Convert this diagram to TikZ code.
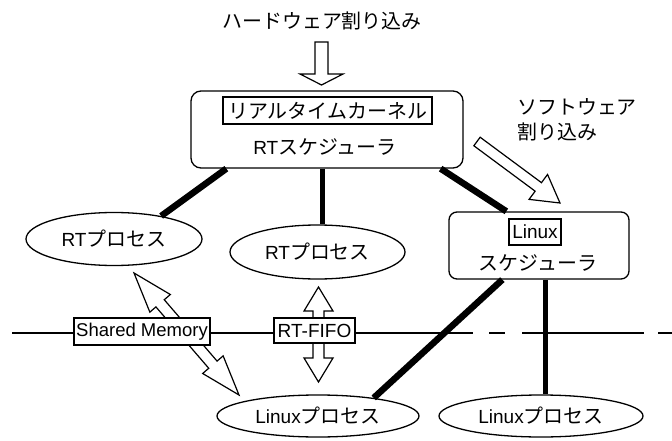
\documentclass[tikz,border=0pt]{standalone}
\usepackage{fontspec}
\setmainfont{Liberation Sans}
\newfontfamily\jp{Noto Sans CJK JP}[Scale=1.05]
\usetikzlibrary{calc,shapes.geometric}
\newcommand\harrow[5]{% tail, tip, half shaft, half head, head length
  \coordinate (hb) at ($(#2)!#5!(#1)$);
  \draw[hollowarrow] ($(#1)!#3!90:(#2)$) -- ($(hb)!#3!90:(#2)$) -- ($(hb)!#4!90:(#2)$) -- (#2)
    -- ($(hb)!#4!-90:(#2)$) -- ($(hb)!#3!-90:(#2)$) -- ($(#1)!#3!-90:(#2)$) -- cycle;}
\newcommand\hdarrow[5]{% tip A, tip B, half shaft, half head, head length
  \coordinate (ha) at ($(#1)!#5!(#2)$);
  \coordinate (hb) at ($(#2)!#5!(#1)$);
  \draw[hollowarrow] (#1) -- ($(ha)!#4!90:(#2)$) -- ($(ha)!#3!90:(#2)$) -- ($(hb)!#3!90:(#2)$)
    -- ($(hb)!#4!90:(#2)$) -- (#2) -- ($(hb)!#4!-90:(#2)$) -- ($(hb)!#3!-90:(#2)$)
    -- ($(ha)!#3!-90:(#2)$) -- ($(ha)!#4!-90:(#2)$) -- cycle;}
\begin{document}
\begin{tikzpicture}[x=1pt,y=-1pt, font=\fontsize{19}{24}\selectfont,
  procnode/.style={ellipse, draw, line width=1.3pt, fill=white, inner sep=0pt},
  roundbox/.style={draw, line width=1.3pt, fill=white, inner sep=0pt},
  labelbox/.style={draw, line width=1.2pt, fill=white, inner sep=1pt},
  link/.style={line width=6.5pt},
  vlink/.style={line width=5pt},
  hollowarrow/.style={draw, line width=1.2pt, fill=white, line join=miter},
]
\useasboundingbox (0,0) rectangle (672,441);

% boundary line
\coordinate (hl0) at (12,333);
\coordinate (hl1) at (672,333);
\draw[line width=1.2pt, dash pattern=on 461pt off 16pt on 16pt off 17pt on 122pt off 14pt on 30pt] (hl0) -- (hl1);

% hollow arrows
\coordinate (hwA) at (321.5,42);  \coordinate (hwB) at (321.5,85);
\harrow{hwA}{hwB}{6.5pt}{21.5pt}{11pt}
\coordinate (swA) at (477,141.5); \coordinate (swB) at (560,203);
\harrow{swA}{swB}{5.3pt}{15.5pt}{27pt}
\coordinate (smA) at (134,273);   \coordinate (smB) at (239,395);
\hdarrow{smA}{smB}{5.5pt}{13.5pt}{40pt}
\coordinate (ffA) at (318.5,287); \coordinate (ffB) at (318.5,382);
\hdarrow{ffA}{ffB}{5.5pt}{14.5pt}{24pt}

% texts
\node (hw) at (322,21) {\jp ハードウェア割り込み};
\node[anchor=west, align=left, inner sep=0pt, font=\fontsize{19}{25}\selectfont\jp] (sw) at (517,119.5) {\jp ソフトウェア\\\jp 割り込み};

% kernel
\node[roundbox, rounded corners=10pt, minimum width=272pt, minimum height=77pt] (kernel) at (327,129.5) {};
\node[labelbox, minimum width=209pt, minimum height=27pt] (kname) at (327.5,110.5) {\jp リアルタイムカーネル};
\node (ksched) at (325,147) {RT\jp スケジューラ};

% linux scheduler
\node[roundbox, rounded corners=8pt, minimum width=180pt, minimum height=67pt] (lsched) at (539,245.5) {};
\node[labelbox, minimum width=52pt, minimum height=26pt] (lname) at (535,232) {Linux};
\node (lschedtxt) at (538,263) {\jp スケジューラ};

% processes
\node[procnode, minimum width=176pt, minimum height=53pt] (rtl) at (114,239) {RT\jp プロセス};
\node[procnode, minimum width=175pt, minimum height=54pt] (rtm) at (317.5,252) {RT\jp プロセス};
\node[procnode, minimum width=202pt, minimum height=42pt] (lpl) at (318,416) {Linux\jp プロセス};
\node[procnode, minimum width=204pt, minimum height=42pt] (lpr) at (541,416) {Linux\jp プロセス};

% boxes on the boundary line
\node[labelbox, minimum width=136pt, minimum height=27pt, font=\fontsize{18.5}{22}\selectfont] (shm) at (142,331.5) {Shared Memory};
\node[labelbox, minimum width=81pt, minimum height=25pt] (fifo) at (314.5,330.5) {RT-FIFO};

% thick links
\draw[link] ([xshift=36pt]kernel.south west) -- (rtl.26);
\draw[vlink] ([xshift=-4.5pt]kernel.south) -- ([xshift=-4.5pt]kernel.south |- rtm.north);
\draw[link] ([xshift=-23pt]kernel.south east) -- ([xshift=58pt]lsched.north west);
\draw[link] ([xshift=54pt]lsched.south west) -- (lpl.18);
\draw[vlink] ([xshift=6pt]lsched.south) -- ([xshift=6pt]lsched.south |- lpr.north);
\end{tikzpicture}
\end{document}
